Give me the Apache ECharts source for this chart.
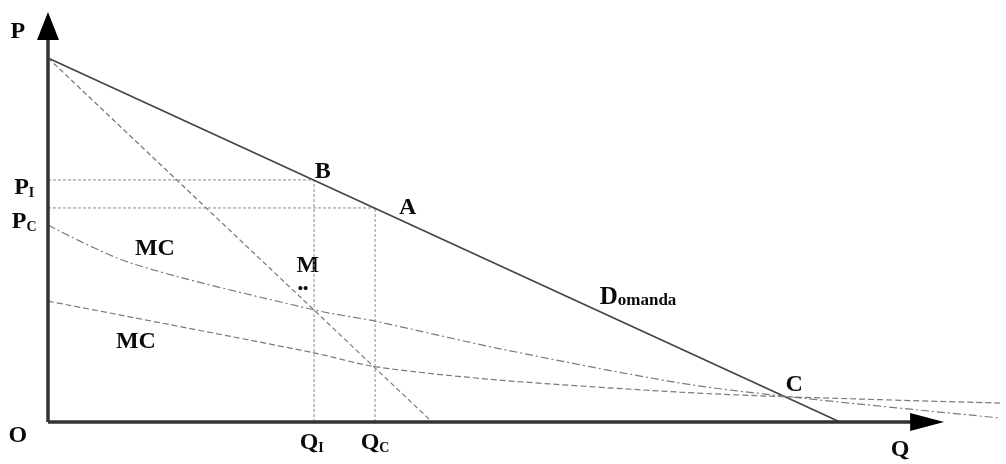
<!DOCTYPE html>
<html>
<head>
<meta charset="utf-8">
<script src="https://cdn.jsdelivr.net/npm/echarts@6/dist/echarts.min.js"></script>
<style>
html, body { margin: 0; padding: 0; background: #fff; }
#chart { width: 1006px; height: 464px; }
</style>
</head>
<body>
<div id="chart"></div>
<script>
// quantities / prices (Q: 0..100 = demand intercept, P: 0..100 = price intercept)
var qI = 33.6, qC = 41.3, pI = 66.5, pC = 58.8;

var demandQ = [0, 100];
var demandP = [100, 0];

var mrQ = [0, 48.5];
var mrP = [100, 0];

// upper MC (dash-dot)
var mc1Q = [0, 10.4, 33.6, 41.3, 57.1, 79.8, 93.7, 120.2];
var mc1P = [54.1, 43.7, 30.8, 27.7, 20.1, 10.7, 6.9, 1.1];

// lower MC (dashed)
var mc2Q = [0, 33.6, 41.3, 57.1, 79.8, 93.7, 120.2];
var mc2P = [33.2, 19.0, 15.2, 11.5, 8.2, 6.9, 5.2];

var axisQEnd = 111.0, axisPEnd = 108.8;

var labelText = ['{b|P}', '{b|P}{s|I}', '{b|P}{s|C}', '{b|O}', '{b|Q}{s|I}', '{b|Q}{s|C}', '{b|Q}',
                 '{b|B}', '{b|A}', '{b|M}', '{b|MC}', '{b|MC}', '{d|D}{o|omanda}', '{b|C}', '{t|••}'];
var labelQ = [-3.8, -3.0, -3.0, -3.8, 33.3, 41.3, 107.6, 34.7, 45.4, 32.8, 13.5, 11.1, 74.5, 94.2, 32.2];
var labelP = [107.1, 64.3, 54.9, -3.9, -5.8, -5.8, -7.7, 68.7, 58.8, 42.9, 47.5, 22.0, 34.3, 10.2, 36.6];

var zip = function(xs, ys){
    var out = [];
    for (var i = 0; i < xs.length; i++) out.push([xs[i], ys[i]]);
    return out;
};

var myChart = echarts.init(document.getElementById('chart'));

var serif = '"Liberation Serif", "DejaVu Serif", serif';
var ink = '#0a0a0a';

var lineSeries = function(data, color, width, type){
    return {
        type: 'line',
        data: data,
        symbol: 'none',
        silent: true,
        lineStyle: {color: color, width: width, type: type}
    };
};

var series = [];

// guide lines
series.push(lineSeries([[0, pI], [qI, pI]], '#8a8a8a', 1, [3, 2]));
series.push(lineSeries([[0, pC], [qC, pC]], '#8a8a8a', 1, [3, 2]));
series.push(lineSeries([[qI, 0], [qI, pI]], '#8a8a8a', 1, [3, 2]));
series.push(lineSeries([[qC, 0], [qC, pC]], '#8a8a8a', 1, [3, 2]));

// curves
series.push(lineSeries(zip(demandQ, demandP), '#444', 1.7, 'solid'));
series.push(lineSeries(zip(mrQ, mrP), '#777', 1.2, [5, 3]));
var mc1 = lineSeries(zip(mc1Q, mc1P), '#7a7a7a', 1.2, [8, 3, 2, 3]);
mc1.smooth = 0.3;
series.push(mc1);
var mc2 = lineSeries(zip(mc2Q, mc2P), '#7a7a7a', 1.2, [6, 3]);
mc2.smooth = 0.3;
series.push(mc2);

// axes with arrow heads
series.push({
    type: 'line', silent: true,
    data: [[0, 0], {value: [axisQEnd, 0], symbol: 'triangle', symbolSize: [18, 34], symbolRotate: -90}],
    showSymbol: true, symbol: 'none',
    lineStyle: {color: '#333', width: 3.5},
    itemStyle: {color: '#000'}
});
series.push({
    type: 'line', silent: true,
    data: [[0, 0], {value: [0, axisPEnd], symbol: 'triangle', symbolSize: [22, 28]}],
    showSymbol: true, symbol: 'none',
    lineStyle: {color: '#333', width: 3.5},
    itemStyle: {color: '#000'}
});

// text labels
var labels = [];
for (var i = 0; i < labelText.length; i++){
    labels.push({value: [labelQ[i], labelP[i]], name: labelText[i]});
}
series.push({
    type: 'scatter',
    data: labels,
    symbolSize: 0,
    silent: true,
    itemStyle: {opacity: 1, color: ink},
    label: {
        show: true,
        position: 'inside',
        color: ink,
        opacity: 1,
        textBorderWidth: 0,
        formatter: function(p){ return p.name; },
        rich: {
            b: {fontFamily: serif, fontWeight: 'bold', fontSize: 24, color: ink, lineHeight: 24, textBorderWidth: 0},
            s: {fontFamily: serif, fontWeight: 'bold', fontSize: 14, color: ink, lineHeight: 24, verticalAlign: 'bottom', padding: [11, 0, 0, 0], textBorderWidth: 0},
            d: {fontFamily: serif, fontWeight: 'bold', fontSize: 25, color: ink, lineHeight: 24, textBorderWidth: 0},
            o: {fontFamily: serif, fontWeight: 'bold', fontSize: 17, color: ink, lineHeight: 24, verticalAlign: 'bottom', padding: [6, 0, 0, 0], textBorderWidth: 0},
            t: {fontFamily: serif, fontWeight: 'bold', fontSize: 15, color: ink, textBorderWidth: 0}
        }
    }
});

var option = {
    animation: false,
    backgroundColor: '#fff',
    grid: {left: 0, right: 0, top: 0, bottom: 0},
    xAxis: {type: 'value', min: -6.06, max: 120.96, show: false},
    yAxis: {type: 'value', min: -11.54, max: 115.93, show: false},
    series: series
};

myChart.setOption(option);
</script>
</body>
</html>
